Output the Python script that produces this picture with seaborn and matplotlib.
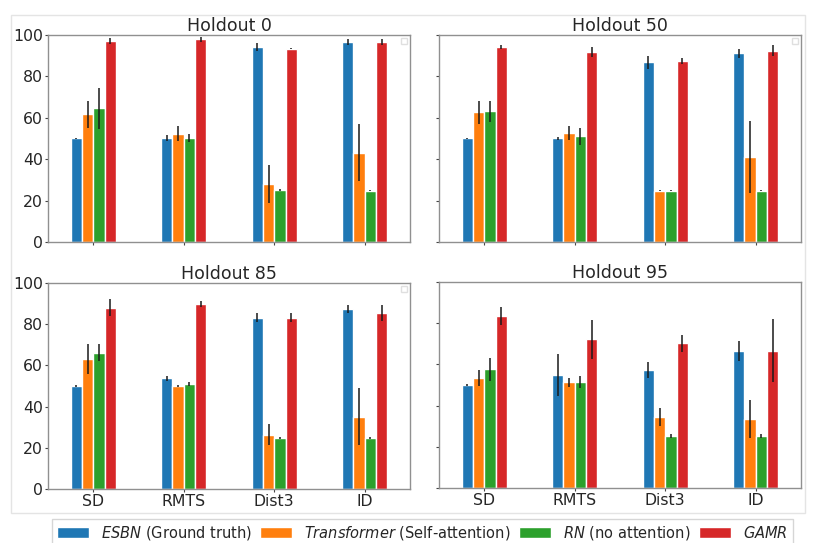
import numpy as np
import pandas as pd
import matplotlib
matplotlib.use('Agg')
import matplotlib.pyplot as plt
from matplotlib.patches import Patch, Rectangle
import seaborn as sns

# tasks, models, colours
tasks = ['SD', 'RMTS', 'Dist3', 'ID']
models = ['ESBN', 'Transformer', 'RN', 'GAMR']
legend_labels = [r'$\it{ESBN}$ (Ground truth)',
                 r'$\it{Transformer}$ (Self-attention)',
                 r'$\it{RN}$ (no attention)',
                 r'$\it{GAMR}$']
colors = ['#1f77b4', '#ff7f0e', '#2ca02c', '#d62728']
holdouts = [0, 50, 85, 95]

# mean accuracy, rows = models, cols = tasks
mean_h0 = [[50.0, 50.3, 94.4, 96.5],
           [61.6, 52.3, 28.1, 43.2],
           [64.5, 50.3, 25.2, 24.7],
           [97.1, 97.9, 93.4, 96.8]]
err_h0 = [[0.2, 1.5, 1.9, 1.5],
          [6.5, 3.6, 9.3, 13.7],
          [9.7, 2.0, 0.5, 0.3],
          [1.5, 1.2, 0.3, 1.5]]

mean_h50 = [[50.0, 50.0, 86.8, 91.1],
            [62.7, 52.7, 24.8, 41.0],
            [63.1, 51.1, 24.8, 24.7],
            [94.2, 91.8, 87.4, 92.4]]
err_h50 = [[0.2, 0.5, 3.1, 2.3],
           [5.6, 3.2, 0.3, 17.3],
           [5.1, 4.2, 0.3, 0.3],
           [1.2, 2.3, 1.5, 2.6]]

mean_h85 = [[50.0, 53.7, 83.2, 87.2],
            [63.1, 50.0, 26.4, 35.1],
            [66.2, 50.8, 24.9, 24.9],
            [88.0, 89.8, 83.2, 85.4]]
err_h85 = [[0.5, 1.2, 2.2, 1.9],
           [7.4, 0.3, 5.0, 13.8],
           [4.2, 1.0, 0.4, 0.4],
           [4.0, 1.6, 2.2, 3.8]]

mean_h95 = [[50.0, 54.7, 57.4, 66.5],
            [53.4, 51.3, 34.4, 33.4],
            [57.6, 51.6, 25.2, 25.2],
            [83.4, 72.1, 70.2, 66.6]]
err_h95 = [[0.5, 10.2, 3.9, 4.8],
           [3.7, 2.3, 4.4, 9.1],
           [5.6, 3.0, 1.1, 1.1],
           [4.3, 9.6, 4.0, 15.2]]

means = [mean_h0, mean_h50, mean_h85, mean_h95]
errs = [err_h0, err_h50, err_h85, err_h95]

sns.set_style('ticks')
plt.rcParams['font.family'] = ['DejaVu Sans']
plt.rcParams['mathtext.fontset'] = 'dejavusans'

fig = plt.figure(figsize=(8.2, 5.43), dpi=100)

# faint frame from the pasted panels
fig.add_artist(Rectangle((11 / 820, 1 - 513 / 543), 794 / 820, 498 / 543,
                         transform=fig.transFigure, fill=False,
                         edgecolor='#e4e4e4', lw=1))

W, H = 820, 543
rects = [(48, 35, 410, 242), (439, 35, 801, 242),
         (48, 283, 410, 489), (439, 282, 801, 488)]

for k, h in enumerate(holdouts):
    x0, y0, x1, y1 = rects[k]
    ax = fig.add_axes([x0 / W, 1 - y1 / H, (x1 - x0) / W, (y1 - y0) / H])
    rows = []
    for i, m in enumerate(models):
        for j, t in enumerate(tasks):
            rows.append({'task': t, 'model': m, 'acc': means[k][i][j], 'err': errs[k][i][j]})
    df = pd.DataFrame(rows)
    sns.barplot(data=df, x='task', y='acc', hue='model', order=tasks, hue_order=models,
                palette=colors, width=0.5, gap=0, errorbar=None, saturation=1,
                legend=False, ax=ax)
    bar_conts = list(ax.containers)
    for i, cont in enumerate(bar_conts):
        xs = [b.get_x() + b.get_width() / 2 for b in cont]
        hs = [b.get_height() for b in cont]
        ax.errorbar(xs, hs, yerr=errs[k][i], fmt='none', ecolor='#1a1a1a',
                    elinewidth=1.1, capsize=0)
    ax.set_ylim(0, 100)
    ax.set_xlim(-0.5, 3.5)
    ax.set_yticks([0, 20, 40, 60, 80, 100])
    ax.set_xlabel('')
    ax.set_ylabel('')
    ax.set_title(f'Holdout {h}', fontsize=12.5, pad=3)
    ax.tick_params(labelsize=11.3, length=2.5, width=0.8, color='#444', pad=1)
    for s in ax.spines.values():
        s.set_visible(True)
        s.set_color('#909090')
        s.set_linewidth(1.0)
    if k < 2:
        ax.tick_params(labelbottom=False)
    if k % 2 == 1:
        ax.tick_params(labelleft=False)
    if k < 3:
        # leftover empty legend box in the corner
        ax.legend(handles=[], loc='upper right', frameon=True, fancybox=False,
                  edgecolor='#d8d8d8', borderpad=0.22, borderaxespad=0.2)

handles = [Patch(facecolor=c, label=l) for c, l in zip(colors, legend_labels)]
fig.legend(handles=handles, loc='center', bbox_to_anchor=(0.515, 1 - 533 / H),
           ncol=4, fontsize=10.5, frameon=True, fancybox=False, edgecolor='#cccccc',
           handlelength=2.2, handleheight=0.8, columnspacing=0.6, handletextpad=0.8,
           borderpad=0.35)

fig.savefig('out.png', dpi=100)
